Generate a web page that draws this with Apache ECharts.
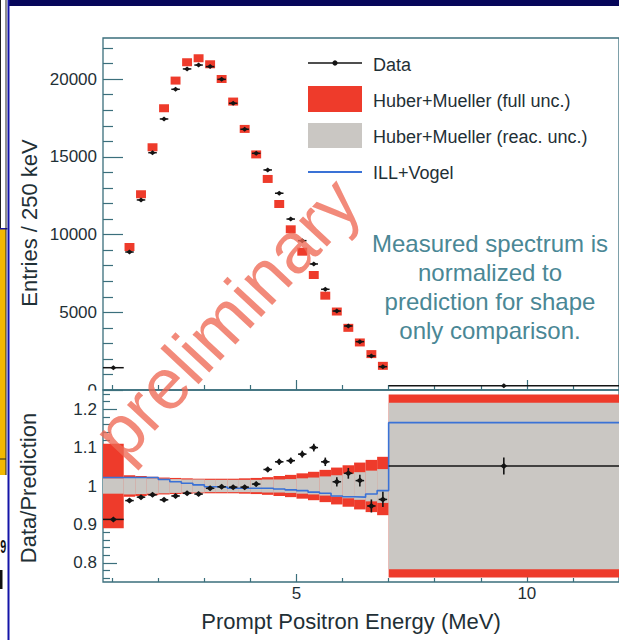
<!DOCTYPE html>
<html><head><meta charset="utf-8">
<script src="https://cdn.jsdelivr.net/npm/echarts@6/dist/echarts.min.js"></script>
<style>html,body{margin:0;padding:0;background:#fff}#c{width:619px;height:640px}</style>
</head><body><div id="c"></div>
<script>
// ---- data ----
const binEdges = [0.8,1.25,1.5,1.75,2.0,2.25,2.5,2.75,3.0,3.25,3.5,3.75,4.0,4.25,4.5,4.75,5.0,5.25,5.5,5.75,6.0,6.25,6.5,6.75,7.0,12];
const dataEntries = [1435,8880,12230,15270,17440,19350,20660,20910,20810,19990,18450,16780,15230,14160,12660,11000,9610,8110,6480,5080,4120,3110,2190,1500,277];
const predEntries = [1570,9200,12590,15620,18130,19910,21090,21340,20960,20010,18560,16800,15160,13580,11970,10340,8900,7400,6070,5050,4000,3060,2310,1555,263];
const ratioData = [0.913,0.962,0.971,0.977,0.964,0.974,0.981,0.979,0.994,0.998,0.997,0.997,1.005,1.043,1.063,1.066,1.083,1.100,1.063,1.011,1.033,1.014,0.948,0.965,1.052];
const ratioErr = [0.002,0.004,0.004,0.004,0.004,0.004,0.004,0.004,0.004,0.005,0.005,0.005,0.006,0.007,0.008,0.008,0.009,0.010,0.011,0.012,0.014,0.015,0.017,0.020,0.022];
const reacUnc = [0.020,0.022,0.021,0.020,0.019,0.018,0.017,0.017,0.016,0.016,0.016,0.016,0.016,0.017,0.017,0.018,0.020,0.022,0.025,0.028,0.032,0.036,0.040,0.044,0.217];
const fullUnc = [0.110,0.028,0.026,0.024,0.022,0.021,0.020,0.019,0.019,0.019,0.019,0.020,0.021,0.023,0.026,0.029,0.033,0.037,0.042,0.048,0.054,0.061,0.068,0.076,0.238];
const illVogelRatio = [1.022,1.022,1.022,1.022,1.017,1.011,1.007,1.003,0.998,0.997,0.994,0.994,0.994,0.994,0.992,0.990,0.988,0.984,0.981,0.974,0.972,0.971,0.979,0.988,1.165];
const yTopLabels = [0,5000,10000,15000,20000];
const yTopMinor = [1000,2000,3000,4000,6000,7000,8000,9000,11000,12000,13000,14000,16000,17000,18000,19000,21000,22000];
const yBotLabels = [0.8,0.9,1,1.1,1.2];
const yBotMinor = [0.76,0.78,0.82,0.84,0.86,0.88,0.92,0.94,0.96,0.98,1.02,1.04,1.06,1.08,1.12,1.14,1.16,1.18,1.22,1.24];
const xMajor = [5,10];
const xMinor = [1,2,3,4,6,7,8,9,11,12];

// ---- styles ----
const FONT = '"Liberation Sans", Arial, Helvetica, sans-serif';
const AX = '#3b6f7c';
const TXT = '#1f3036';
const RED = '#ee3b2b';
const GRAY = '#cac7c3';
const BLUE = '#3a72d6';
const BLK = '#141414';

const nBins = binEdges.length - 1;
const lo = i => binEdges[i], hi = i => binEdges[i+1];
const narrow = [];
for (let i = 1; i < nBins - 1; i++) narrow.push(i);

const topBoxes = narrow.map(i => [lo(i), hi(i), predEntries[i]]);
const topData = dataEntries.map((v, i) => [lo(i), hi(i), v]);
const bandFull = fullUnc.map((u, i) => [lo(i), hi(i), 1 - u, 1 + u]);
const bandReac = reacUnc.map((u, i) => [lo(i), hi(i), 1 - u, 1 + u]);
const ratioPts = ratioData.map((v, i) => [lo(i), hi(i), v, ratioErr[i]]);
const ilvLine = illVogelRatio.map((v, i) => [lo(i), v]).concat([[binEdges[nBins], illVogelRatio[nBins-1]]]);

function boxItem(params, api) {
  const a = api.coord([api.value(0), api.value(2)]);
  const b = api.coord([api.value(1), api.value(2)]);
  return {type:'rect', shape:{x:a[0]+0.8, y:a[1]-4, width:b[0]-a[0]-1.6, height:8}, style:{fill:RED}};
}
function bandItem(color) {
  return function(params, api) {
    const a = api.coord([api.value(0), api.value(3)]);
    const b = api.coord([api.value(1), api.value(2)]);
    return {type:'rect', shape:{x:a[0], y:a[1], width:b[0]-a[0], height:b[1]-a[1]}, style:{fill:color}};
  };
}
function markItem(dw, dh) {
  return function(params, api) {
    const l = api.value(0), h = api.value(1), v = api.value(2), e = api.value(3);
    const pL = api.coord([l, v]), pR = api.coord([h, v]);
    const cx = (pL[0] + pR[0]) / 2, cy = pL[1];
    const inset = (h - l) > 0.3 ? 0 : 1.5;
    const ch = [
      {type:'line', shape:{x1:pL[0]+inset, y1:cy, x2:pR[0]-inset, y2:cy}, style:{stroke:BLK, lineWidth:1.5}},
      {type:'polygon', shape:{points:[[cx-dw,cy],[cx,cy-dh],[cx+dw,cy],[cx,cy+dh]]}, style:{fill:BLK}}
    ];
    if (e > 0) {
      const t = api.coord([l, v + e]), b = api.coord([l, v - e]);
      ch.push({type:'line', shape:{x1:cx, y1:t[1], x2:cx, y2:b[1]}, style:{stroke:BLK, lineWidth:1.6}});
    }
    return {type:'group', children:ch};
  };
}

const plain = v => String(v);
function xAx(grid, ticks, len, labels) {
  return {gridIndex:grid, type:'value', min:0.8, max:12, position:'bottom',
    axisLine:{show:false, onZero:false}, splitLine:{show:false},
    axisTick:{show:true, inside:true, length:len, customValues:ticks, lineStyle:{color:AX, width:1.2}},
    axisLabel: labels ? {show:true, customValues:labels, formatter:plain, margin:3, fontSize:17, color:TXT, fontFamily:FONT} : {show:false}};
}
function yAx(grid, min, max, ticks, len, labels) {
  return {gridIndex:grid, type:'value', min:min, max:max, position:'left',
    axisLine:{show:false, onZero:false}, splitLine:{show:false},
    axisTick:{show:true, inside:true, length:len, customValues:ticks, lineStyle:{color:AX, width:1.2}},
    axisLabel: labels ? {show:true, customValues:labels, formatter:plain, margin:6, fontSize:17, color:TXT, fontFamily:FONT} : {show:false}};
}

const txt = (t, x, y, size, color, extra) => Object.assign({type:'text', x:x, y:y, z:60,
  style:{text:t, font: size + 'px ' + FONT, fill:color, align:'left', verticalAlign:'middle', textAlign:'left', textVerticalAlign:'middle'}}, extra || {});
const ctxt = (t, x, y, size, rot) => ({type:'text', x:x, y:y, z:60, rotation:rot || 0,
  style:{text:t, font: size + 'px ' + FONT, fill:TXT, align:'center', verticalAlign:'middle', textAlign:'center', textVerticalAlign:'middle'}});

const graphics = [
  // cover lower half of the top panel's "0" label (hidden by lower pad)
  {type:'rect', z:55, shape:{x:50, y:390.5, width:51, height:8}, style:{fill:'#fff'}},
  // slide border fragments
  {type:'rect', z:70, shape:{x:8, y:0, width:611, height:6}, style:{fill:'#06065a'}},
  {type:'rect', z:70, shape:{x:7.5, y:0, width:2, height:640}, style:{fill:'#1414a8'}},
  {type:'rect', z:70, shape:{x:0, y:229, width:6, height:246}, style:{fill:'#f2b900'}},
  {type:'rect', z:71, shape:{x:0, y:228, width:7.5, height:1.5}, style:{fill:'#1414a8'}},
  {type:'rect', z:71, shape:{x:5.5, y:0, width:1, height:475}, style:{fill:'#222'}},
  {type:'rect', z:71, shape:{x:0, y:0, width:1, height:228}, style:{fill:'#222'}},
  {type:'rect', z:71, shape:{x:0, y:458.5, width:6, height:1}, style:{fill:'#222'}},
  {type:'text', z:71, x:0.3, y:547, scaleX:0.6, style:{text:'9', font:'bold 18px ' + FONT, fill:'#111', align:'left', verticalAlign:'middle', textAlign:'left', textVerticalAlign:'middle'}},
  {type:'rect', z:71, shape:{x:0, y:570, width:2.5, height:19}, style:{fill:'#111'}},
  // legend
  {type:'line', z:60, shape:{x1:308, y1:63, x2:362, y2:63}, style:{stroke:BLK, lineWidth:1.5}},
  {type:'circle', z:61, shape:{cx:335, cy:63, r:2.6}, style:{fill:BLK}},
  txt('Data', 373, 65, 18, TXT),
  {type:'rect', z:60, shape:{x:308, y:86, width:54, height:26}, style:{fill:RED}},
  txt('Huber+Mueller (full unc.)', 373, 101, 18, TXT),
  {type:'rect', z:60, shape:{x:308, y:123, width:54, height:25}, style:{fill:GRAY}},
  txt('Huber+Mueller (reac. unc.)', 373, 137, 18, TXT),
  {type:'line', z:60, shape:{x1:308, y1:172, x2:362, y2:172}, style:{stroke:BLUE, lineWidth:2}},
  txt('ILL+Vogel', 373, 173, 18, TXT),
  // annotation
  {type:'text', z:60, x:490, y:229, style:{text:'Measured spectrum is\nnormalized to\nprediction for shape\nonly comparison.',
    font:'24px ' + FONT, fill:'#4a8795', align:'center', textAlign:'center', verticalAlign:'top', textVerticalAlign:'top', lineHeight:29}},
  // axis titles
  ctxt('Entries / 250 keV', 29, 223, 22, Math.PI/2),
  ctxt('Data/Prediction', 28, 488, 22, Math.PI/2),
  ctxt('Prompt Positron Energy (MeV)', 351, 621, 22, 0),
  // watermark
  {type:'text', z:80, x:226, y:318, rotation:0.82, style:{text:'preliminary', font:'72px ' + FONT,
    fill:'rgba(238,105,85,0.78)', align:'center', verticalAlign:'middle', textAlign:'center', textVerticalAlign:'middle'}}
];

const chart = echarts.init(document.getElementById('c'), null, {renderer:'svg'});
chart.setOption({
  animation:false,
  backgroundColor:'#fff',
  grid:[
    {left:103, top:38, width:518, height:352, show:true, borderColor:AX, borderWidth:1.3, backgroundColor:'transparent'},
    {left:103, top:390, width:518, height:192, show:true, borderColor:AX, borderWidth:1.3, backgroundColor:'transparent'}
  ],
  xAxis:[ xAx(0, xMajor, 10), xAx(0, xMinor, 5), xAx(1, xMajor, 8, xMajor), xAx(1, xMinor, 4) ],
  yAxis:[ yAx(0, 0, 22650, yTopLabels, 20, yTopLabels), yAx(0, 0, 22650, yTopMinor, 10),
          yAx(1, 0.75, 1.25, yBotLabels, 14, yBotLabels), yAx(1, 0.75, 1.25, yBotMinor, 7) ],
  series:[
    {type:'custom', name:'Huber+Mueller (full unc.)', xAxisIndex:0, yAxisIndex:0, z:2, data:topBoxes, encode:{x:[0,1], y:2}, renderItem:boxItem},
    {type:'custom', name:'Data', xAxisIndex:0, yAxisIndex:0, z:5, data:topData, encode:{x:[0,1], y:2}, renderItem:markItem(3,2.5)},
    {type:'custom', name:'Huber+Mueller (full unc.) ratio', xAxisIndex:2, yAxisIndex:2, z:2, data:bandFull, encode:{x:[0,1], y:[2,3]}, renderItem:bandItem(RED)},
    {type:'custom', name:'Huber+Mueller (reac. unc.) ratio', xAxisIndex:2, yAxisIndex:2, z:3, data:bandReac, encode:{x:[0,1], y:[2,3]}, renderItem:bandItem(GRAY)},
    {type:'line', name:'ILL+Vogel', xAxisIndex:2, yAxisIndex:2, z:4, step:'end', symbol:'none', data:ilvLine, lineStyle:{color:BLUE, width:1.6}},
    {type:'custom', name:'Data ratio', xAxisIndex:2, yAxisIndex:2, z:5, data:ratioPts, encode:{x:[0,1], y:2}, renderItem:markItem(3.5,3)}
  ],
  graphic: graphics
});
</script>
</body></html>
